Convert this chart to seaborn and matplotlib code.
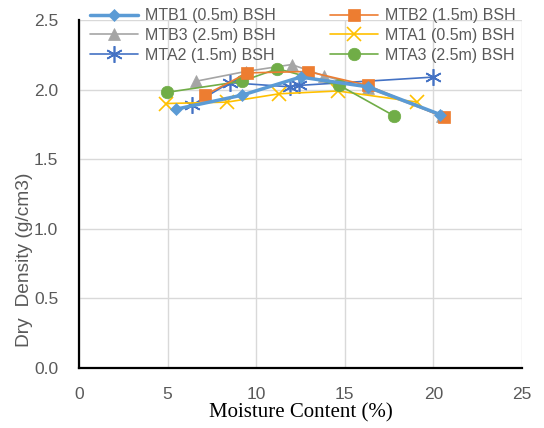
import matplotlib
matplotlib.use("Agg")
import matplotlib.pyplot as plt
import seaborn as sns
import pandas as pd

mtb1_x = [5.5, 9.2, 12.5, 16.3, 20.4]
mtb1_y = [1.86, 1.96, 2.09, 2.02, 1.82]
mtb2_x = [7.1, 9.5, 12.9, 16.3, 20.6]
mtb2_y = [1.96, 2.12, 2.13, 2.03, 1.80]
mtb3_x = [6.6, 9.4, 12.0, 13.8, 16.3, 20.5]
mtb3_y = [2.06, 2.13, 2.18, 2.10, 2.01, 1.81]
mta1_x = [4.9, 8.35, 11.3, 14.6, 19.1]
mta1_y = [1.90, 1.91, 1.97, 1.99, 1.91]
mta2_x = [6.4, 8.5, 11.9, 12.4, 20.0]
mta2_y = [1.89, 2.05, 2.02, 2.03, 2.09]
mta3_x = [4.95, 9.2, 11.2, 14.7, 17.8]
mta3_y = [1.98, 2.06, 2.15, 2.03, 1.81]

labels = ["MTB1 (0.5m) BSH", "MTB2 (1.5m) BSH", "MTB3 (2.5m) BSH",
          "MTA1 (0.5m) BSH", "MTA2 (1.5m) BSH", "MTA3 (2.5m) BSH"]
xs = [mtb1_x, mtb2_x, mtb3_x, mta1_x, mta2_x, mta3_x]
ys = [mtb1_y, mtb2_y, mtb3_y, mta1_y, mta2_y, mta3_y]
colors = ["#5B9BD5", "#ED7D31", "#A5A5A5", "#FFC000", "#4472C4", "#70AD47"]
markers = ["D", "s", "^", "x", (6, 2, 0), "o"]
msizes = [6, 9, 8, 10, 12, 9]
lws = [2.5, 1.2, 1.2, 1.2, 1.2, 1.2]

sns.set_style("white")
plt.rcParams['font.family'] = ['Liberation Sans', 'DejaVu Sans']

fig = plt.figure(figsize=(5.44, 4.28), dpi=100)
ax = fig.add_axes([79/544, 1 - 368/428, (522-79)/544, (368-20)/428])

order = [2, 4, 3, 5, 1, 0]
handles = {}
for i in order:
    df = pd.DataFrame({"x": xs[i], "y": ys[i]})
    sns.lineplot(data=df, x="x", y="y", ax=ax, color=colors[i], lw=lws[i],
                 marker=markers[i], markersize=msizes[i],
                 markeredgecolor=colors[i], markeredgewidth=1.2 if i in (3, 4) else 0.5,
                 sort=False, estimator=None, label=labels[i], legend=False)
    handles[i] = ax.lines[-1]

ax.set_xlim(0, 25)
ax.set_ylim(0, 2.5)
ax.set_xticks([0, 5, 10, 15, 20, 25])
ax.set_yticks([0, 0.5, 1.0, 1.5, 2.0, 2.5])
ax.set_yticklabels(["0.0", "0.5", "1.0", "1.5", "2.0", "2.5"])
ax.grid(True, color="#D9D9D9", lw=1)
ax.set_axisbelow(True)
for s in ["top", "right"]:
    ax.spines[s].set_visible(False)
for s in ["left", "bottom"]:
    ax.spines[s].set_color("black")
    ax.spines[s].set_linewidth(1.6)
ax.tick_params(axis="both", length=0, labelsize=12.5, labelcolor="#595959")
ax.tick_params(axis="x", pad=14)
ax.tick_params(axis="y", pad=15)

ax.set_xlabel("Moisture Content (%)", fontfamily="Liberation Serif", fontsize=15,
              color="black")
ax.xaxis.set_label_coords(0.5, -0.1)
ax.set_ylabel("Dry  Density (g/cm3)", fontsize=13.8, color="#595959")
ax.yaxis.set_label_coords(-0.104, 0.31)

leg_order = [0, 2, 4, 1, 3, 5]
leg = ax.legend([handles[i] for i in leg_order], [labels[i] for i in leg_order],
                ncol=2, frameon=False,
                loc="upper left", bbox_to_anchor=(0.01, 1.052), fontsize=11.5,
                labelcolor="#595959", handlelength=3.0, handletextpad=0.45,
                columnspacing=3.4, labelspacing=0.3, borderaxespad=0)

fig.savefig("out.png", dpi=100)
